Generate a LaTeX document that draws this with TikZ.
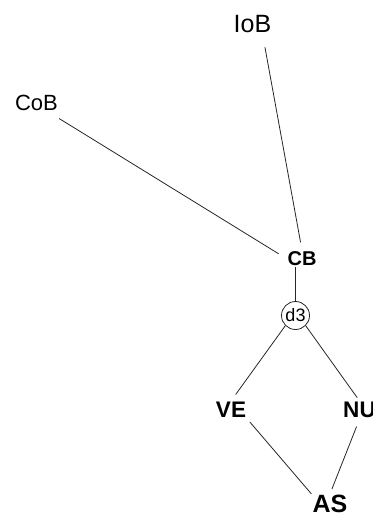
\documentclass[tikz,border=0pt]{standalone}
\usepackage{fontspec}
\setmainfont{Liberation Sans}
\usetikzlibrary{calc}

\begin{document}
\begin{tikzpicture}[x=0.75pt,y=0.75pt,yscale=-1,xscale=1,
  txt/.style={inner sep=0.75pt},
  bold/.style={txt,font=\bfseries},
  edge/.style={draw=black!85,line width=0.6pt}]
%set diagram to 372 x 516
\useasboundingbox (0,0) rectangle (372,516);

% Text Node
\node [txt,font=\fontsize{18.75}{20}\selectfont] (IoB) at (252.5,24) {IoB};
% Text Node
\node [txt,font=\fontsize{16.5}{18}\selectfont] (CoB) at (36.5,102.5) {CoB};
% Text Node
\node [bold,font=\fontsize{15}{16}\selectfont\bfseries] (CB) at (302,258.5) {CB};
% Shape: Circle
\node [draw=black!85,line width=0.6pt,circle,inner sep=0pt,minimum size=21pt,font=\fontsize{13.5}{14}\selectfont] (d3) at (295.5,315.5) {d3};
% Text Node
\node [bold,font=\fontsize{16.9}{18}\selectfont\bfseries] (VE) at (231,410) {VE};
% Text Node
\node [bold,font=\fontsize{16.9}{18}\selectfont\bfseries] (NU) at (359.5,410) {NU};
% Text Node
\node [bold,font=\fontsize{18.75}{20}\selectfont\bfseries] (AS) at (330,504) {AS};

%Straight Lines
\draw [edge,shorten <=10pt,shorten >=6pt] ($(IoB.south)!0.5!(IoB.south east)$) -- (CB.north);
%Straight Lines
\draw [edge,shorten <=10pt,shorten >=6.75pt] ($(CoB.south)!0.5!(CoB.south east)$) -- (CB.west);
%Straight Lines
\draw [edge] (d3.north) -- (d3.north |- CB.south);
%Straight Lines
\draw [edge,shorten >=6pt] (d3.south west) -- (VE.north);
%Straight Lines
\draw [edge,shorten >=3pt] (d3.south east) -- (NU.north);
%Straight Lines
\draw [edge,shorten <=3pt] (VE.south east) -- (AS.north west);
%Straight Lines
\draw [edge,shorten <=6pt,shorten >=4pt] (NU.south) -- (AS.north);
\end{tikzpicture}
\end{document}
